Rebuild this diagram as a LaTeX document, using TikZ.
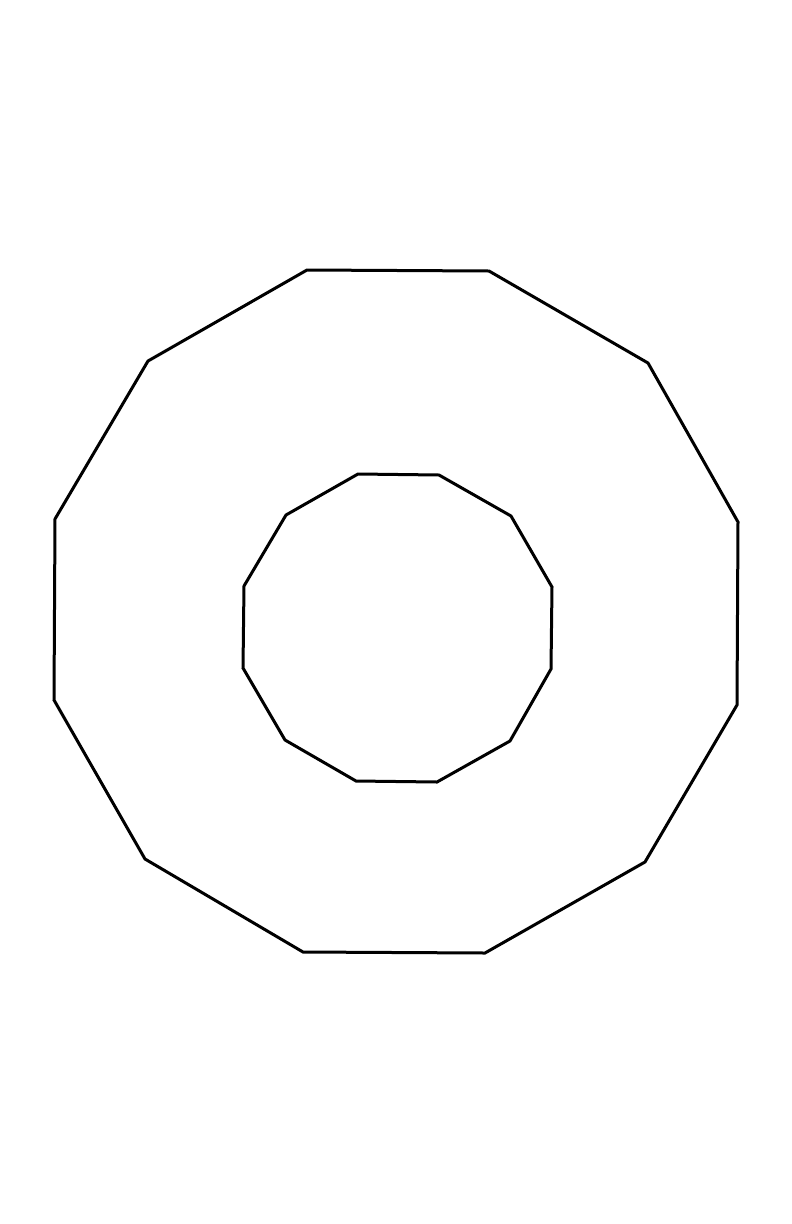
\documentclass[tikz,border=0pt]{standalone}
\begin{document}
\begin{tikzpicture}[x=1pt,y=-1pt,poly/.style={draw=black,line width=3pt,line join=miter}]
\useasboundingbox[fill=white] (0,0) rectangle (792,1224);
\draw[poly] (307,270) -- (489,271) -- (648,363) -- (738,522) -- (737,705) -- (645,862) -- (485,953) -- (303,952) -- (145,859) -- (54,700) -- (55,519) -- (148,361) -- cycle;
\draw[poly] (358,474) -- (439,475) -- (511,516) -- (552,587) -- (551,669) -- (510,741) -- (437,782) -- (356,781) -- (285,740) -- (243,668) -- (244,586) -- (286,515) -- cycle;
\end{tikzpicture}
\end{document}
